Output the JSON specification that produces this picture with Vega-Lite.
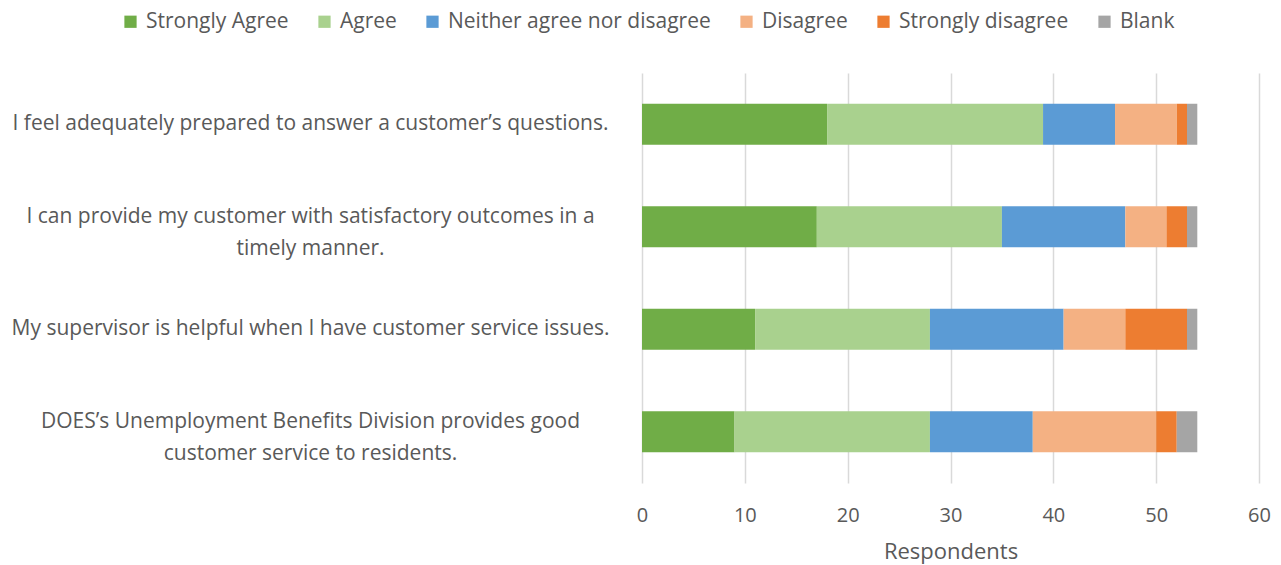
{
  "$schema": "https://vega.github.io/schema/vega-lite/v6.json",
  "autosize": "none",
  "width": 617,
  "height": 410,
  "padding": {"left": 642, "top": 73, "right": 22, "bottom": 82},
  "background": "white",
  "config": {
    "font": "Open Sans",
    "view": {"stroke": null},
    "axis": {"labelColor": "#595959", "titleColor": "#595959", "labelFont": "Open Sans", "titleFont": "Open Sans"},
    "legend": {"labelColor": "#595959", "labelFont": "Open Sans"}
  },
  "data": {
    "values": [
      {"statement": "I feel adequately prepared to answer a customer’s questions.", "response": "Strongly Agree", "count": 18},
      {"statement": "I feel adequately prepared to answer a customer’s questions.", "response": "Agree", "count": 21},
      {"statement": "I feel adequately prepared to answer a customer’s questions.", "response": "Neither agree nor disagree", "count": 7},
      {"statement": "I feel adequately prepared to answer a customer’s questions.", "response": "Disagree", "count": 6},
      {"statement": "I feel adequately prepared to answer a customer’s questions.", "response": "Strongly disagree", "count": 1},
      {"statement": "I feel adequately prepared to answer a customer’s questions.", "response": "Blank", "count": 1},
      {"statement": "I can provide my customer with satisfactory outcomes in a|timely manner.", "response": "Strongly Agree", "count": 17},
      {"statement": "I can provide my customer with satisfactory outcomes in a|timely manner.", "response": "Agree", "count": 18},
      {"statement": "I can provide my customer with satisfactory outcomes in a|timely manner.", "response": "Neither agree nor disagree", "count": 12},
      {"statement": "I can provide my customer with satisfactory outcomes in a|timely manner.", "response": "Disagree", "count": 4},
      {"statement": "I can provide my customer with satisfactory outcomes in a|timely manner.", "response": "Strongly disagree", "count": 2},
      {"statement": "I can provide my customer with satisfactory outcomes in a|timely manner.", "response": "Blank", "count": 1},
      {"statement": "My supervisor is helpful when I have customer service issues.", "response": "Strongly Agree", "count": 11},
      {"statement": "My supervisor is helpful when I have customer service issues.", "response": "Agree", "count": 17},
      {"statement": "My supervisor is helpful when I have customer service issues.", "response": "Neither agree nor disagree", "count": 13},
      {"statement": "My supervisor is helpful when I have customer service issues.", "response": "Disagree", "count": 6},
      {"statement": "My supervisor is helpful when I have customer service issues.", "response": "Strongly disagree", "count": 6},
      {"statement": "My supervisor is helpful when I have customer service issues.", "response": "Blank", "count": 1},
      {"statement": "DOES’s Unemployment Benefits Division provides good|customer service to residents.", "response": "Strongly Agree", "count": 9},
      {"statement": "DOES’s Unemployment Benefits Division provides good|customer service to residents.", "response": "Agree", "count": 19},
      {"statement": "DOES’s Unemployment Benefits Division provides good|customer service to residents.", "response": "Neither agree nor disagree", "count": 10},
      {"statement": "DOES’s Unemployment Benefits Division provides good|customer service to residents.", "response": "Disagree", "count": 12},
      {"statement": "DOES’s Unemployment Benefits Division provides good|customer service to residents.", "response": "Strongly disagree", "count": 2},
      {"statement": "DOES’s Unemployment Benefits Division provides good|customer service to residents.", "response": "Blank", "count": 2}
    ]
  },
  "transform": [
    {"calculate": "indexof(['Strongly Agree','Agree','Neither agree nor disagree','Disagree','Strongly disagree','Blank'], datum.response)", "as": "rank"}
  ],
  "mark": {"type": "bar"},
  "encoding": {
    "y": {
      "field": "statement",
      "type": "nominal",
      "sort": null,
      "scale": {"paddingInner": 0.6, "paddingOuter": 0.3},
      "axis": {
        "title": null,
        "domain": false,
        "ticks": false,
        "labelExpr": "split(datum.label, '|')",
        "labelAlign": "center",
        "labelPadding": 332,
        "labelFontSize": 21,
        "labelLineHeight": 32,
        "labelLimit": 700,
        "labelOffset": {"condition": {"test": "indexof(datum.value, '|') >= 0", "value": -10}, "value": 0}
      }
    },
    "x": {
      "field": "count",
      "type": "quantitative",
      "stack": "zero",
      "scale": {"domain": [0, 60], "nice": false},
      "axis": {
        "title": "Respondents",
        "values": [0, 10, 20, 30, 40, 50, 60],
        "domain": false,
        "ticks": false,
        "grid": true,
        "gridColor": "#d9d9d9",
        "gridWidth": 1.5,
        "labelFlush": false,
        "labelFontSize": 20,
        "labelPadding": 22,
        "titleFontSize": 22,
        "titleFontWeight": "normal",
        "titlePadding": 16
      }
    },
    "color": {
      "field": "response",
      "type": "nominal",
      "scale": {
        "domain": ["Strongly Agree", "Agree", "Neither agree nor disagree", "Disagree", "Strongly disagree", "Blank"],
        "range": ["#70ad47", "#a9d18e", "#5b9bd5", "#f4b183", "#ed7d31", "#a5a5a5"]
      },
      "legend": {
        "title": null,
        "orient": "none",
        "direction": "horizontal",
        "columns": 6,
        "legendX": -522,
        "legendY": -62,
        "symbolType": "square",
        "symbolSize": 150,
        "symbolStrokeWidth": 0,
        "labelFontSize": 21,
        "labelOffset": 5,
        "columnPadding": 25,
        "labelLimit": 400
      }
    },
    "order": {"field": "rank", "type": "quantitative"}
  }
}
